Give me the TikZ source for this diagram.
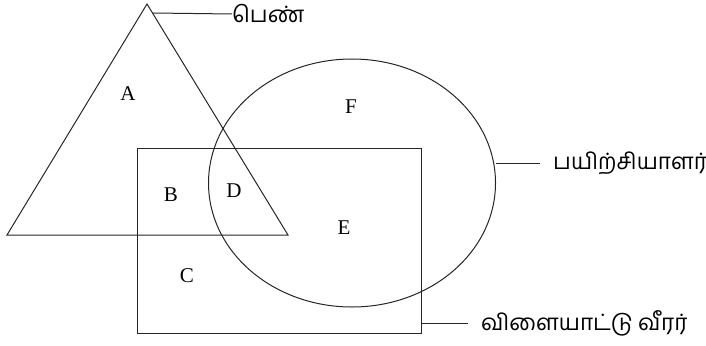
\documentclass[tikz,border=0pt]{standalone}
\usepackage{fontspec}
\setmainfont{Liberation Serif}
\newfontfamily\tamil[Script=Tamil]{Hind Madurai}
\begin{document}
\begin{tikzpicture}[x=1pt,y=-1pt,
  shape line/.style={line width=1pt,draw=black!85},
  region/.style={font=\fontsize{21}{24}\selectfont,inner sep=0pt},
  tlabel/.style={font=\tamil\fontsize{22.5}{26}\selectfont,inner sep=0pt,anchor=west}]
\useasboundingbox (0,0) rectangle (706,345);
% triangle
\coordinate (apex) at (147,4);
\coordinate (bl) at (7,235);
\coordinate (br) at (288,235);
\draw[shape line] (apex) -- (bl) -- (br) -- cycle;
% rectangle
\coordinate (r1) at (137,148);
\coordinate (r2) at (421,333);
\draw[shape line] (r1) rectangle (r2);
% circle
\coordinate (cc) at (352,183);
\draw[shape line] (cc) ellipse [x radius=143.5, y radius=124];
% region letters
\node[region] (A) at (128,94) {A};
\node[region] (F) at (351,107) {F};
\node[region] (B) at (171,195) {B};
\node[region] (D) at (234,191) {D};
\node[region] (E) at (344,228) {E};
\node[region] (C) at (187,276) {C};
% labels
\coordinate (p1) at (153,13);
\node[tlabel] (pen) at (232,14) {பெண்};
\draw[shape line] (p1) -- (pen.west);
\coordinate (p2) at (495.5,163);
\node[tlabel] (payi) at (553,163) {பயிற்சியாளர்};
\draw[shape line] (p2) -- ([xshift=-13pt]payi.west);
\coordinate (p3) at (421,323);
\node[tlabel] (vilai) at (481,323) {விளையாட்டு வீரர்};
\draw[shape line] (p3) -- ([xshift=-13pt]vilai.west);
\end{tikzpicture}
\end{document}
